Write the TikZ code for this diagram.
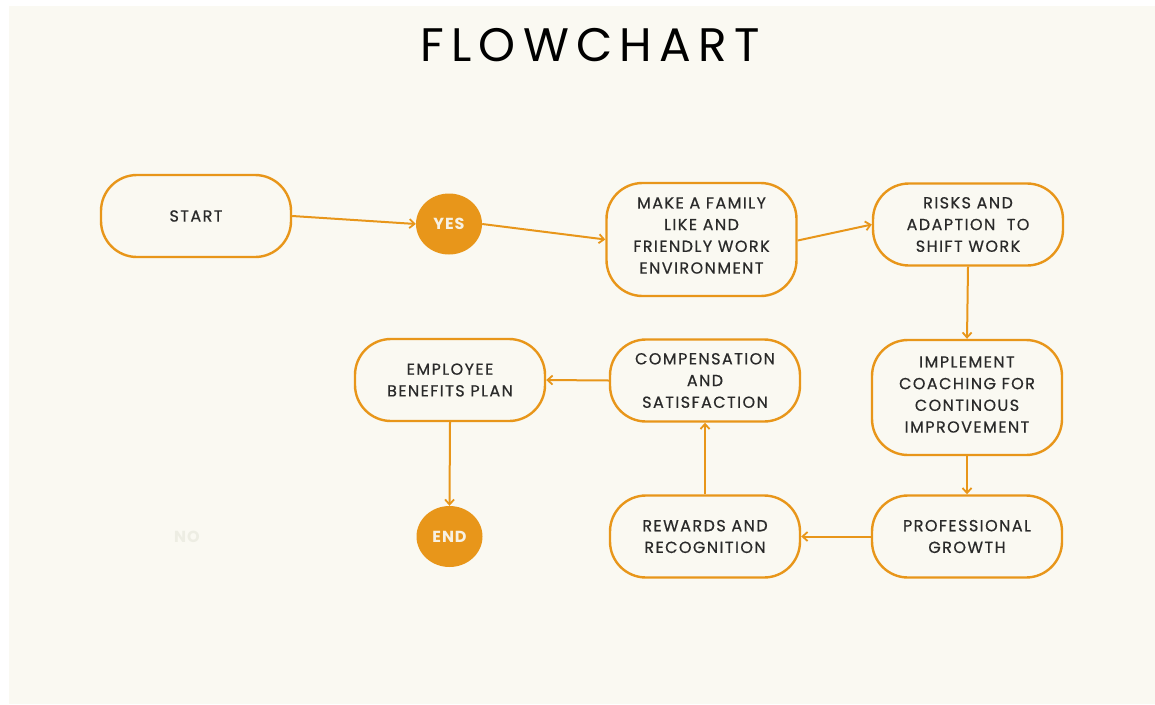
\documentclass[tikz,border=0pt]{standalone}
\usepackage{fontspec}
\setmainfont{Poppins}
\newfontfamily\boxfont[LetterSpace=9,FakeBold=0.6]{Poppins}
\newfontfamily\titlefont[LetterSpace=15.5]{Poppins}
\newfontfamily\circfont[LetterSpace=6]{Poppins}
\usetikzlibrary{arrows.meta,shapes.geometric}
\definecolor{bgc}{HTML}{FAF9F2}
\definecolor{orng}{HTML}{E8961A}
\definecolor{txt}{HTML}{2A2A2A}
\definecolor{cirtxt}{HTML}{F7F1E3}
\definecolor{faint}{HTML}{EDEDE3}
\tikzset{
  flowbox/.style={draw=orng, line width=2.4pt, fill=bgc, rounded corners=36pt,
    minimum width=190pt, minimum height=82pt, align=center, text=txt,
    font=\boxfont\fontsize{16pt}{21.7pt}\selectfont, inner sep=0pt},
  boxtext/.style={align=center, text=txt, inner sep=0pt,
    font=\boxfont\fontsize{16pt}{21.7pt}\selectfont},
  flowcirc/.style={ellipse, fill=orng, minimum width=66pt, minimum height=61pt,
    inner sep=0pt, text=cirtxt, font=\circfont\fontsize{16pt}{17pt}\selectfont\bfseries},
  flowarrow/.style={draw=orng, line width=2pt, -{Straight Barb[length=5pt,width=9pt,line width=1.8pt]}}
}
\begin{document}
\begin{tikzpicture}[x=1pt,y=-1pt]
\useasboundingbox (0,0) rectangle (1155,704);
\fill[bgc] (9,6) rectangle (1155,704);
\node[font=\titlefont\fontsize{47pt}{50pt}\selectfont, text=black] (title) at (590,45) {FLOWCHART};

\node[flowbox] (start) at (196,216) {START};
\node[flowcirc] (yes) at (449,224) {YES};
\node[flowbox, minimum height=113pt] (make) at (701.5,239.5) {};
\node[boxtext] (maketext) at ([yshift=4pt]make.center) {MAKE A FAMILY\\LIKE AND\\FRIENDLY WORK\\ENVIRONMENT};
\node[flowbox] (risks) at (968,224.5) {RISKS AND\\ADAPTION\ \ TO\\SHIFT WORK};
\node[flowbox, minimum height=115pt] (impl) at (967,397.5) {};
\node[boxtext] (impltext) at ([yshift=3pt]impl.center) {IMPLEMENT\\COACHING FOR\\CONTINOUS\\IMPROVEMENT};
\node[flowbox] (prof) at (967,536.5) {PROFESSIONAL\\GROWTH};
\node[flowbox] (rew) at (705,536.5) {REWARDS AND\\RECOGNITION};
\node[flowbox] (comp) at (705,380.5) {COMPENSATION\\AND\\SATISFACTION};
\node[flowbox] (emp) at (450,380) {EMPLOYEE\\BENEFITS PLAN};
\node[flowcirc] (end) at (449.5,536.5) {END};
\node[text=faint, font=\circfont\fontsize{16pt}{17pt}\selectfont\bfseries] (no) at (187,537) {NO};

\draw[flowarrow] (start.east) -- (yes.west);
\draw[flowarrow] (yes.east) -- (make.west);
\draw[flowarrow] ([yshift=-1pt]make.east) -- (risks.west);
\draw[flowarrow] (risks.south) -- (impl.north);
\draw[flowarrow] (impl.south) -- (prof.north);
\draw[flowarrow] (prof.west) -- (rew.east);
\draw[flowarrow] (rew.north) -- (comp.south);
\draw[flowarrow] (comp.west) -- (emp.east);
\draw[flowarrow] (emp.south) -- (end.north);
\end{tikzpicture}
\end{document}
